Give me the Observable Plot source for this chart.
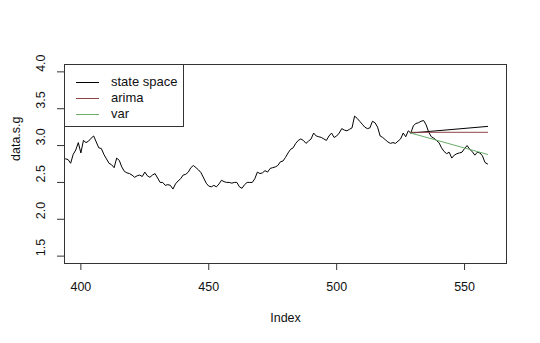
<!DOCTYPE html>
<html>
<head>
<meta charset="utf-8">
<script src="https://cdn.jsdelivr.net/npm/d3@7"></script>
<script src="https://cdn.jsdelivr.net/npm/@observablehq/plot@0.6"></script>
<style>
  body { margin: 0; background: #fff; }
  #wrap { position: relative; width: 540px; height: 343px; font-family: "Liberation Sans", Arial, sans-serif; }
  #legend { position: absolute; left: 64px; top: 64px; width: 120px; height: 63px; border: 1px solid #333; background: #fff; box-sizing: border-box; }
  #legend .row { position: absolute; left: 0; height: 16px; font-size: 13px; color: #111; }
  #legend .sw { position: absolute; left: 11px; top: 8px; width: 23px; height: 0; border-top: 1px solid; }
  #legend .lab { position: absolute; left: 46px; top: 0px; line-height: 16px; white-space: nowrap; }
</style>
</head>
<body>
<div id="wrap"></div>
<script>
// ---- data ----
const startIndex = 393;
const seriesValues = [
  2.83, 2.82, 2.81, 2.76, 2.88, 2.94, 3.04, 2.90, 3.07, 3.04,
  3.06, 3.10, 3.13, 3.05, 2.97, 2.96, 2.88, 2.82, 2.76, 2.74,
  2.70, 2.83, 2.80, 2.71, 2.65, 2.63, 2.62, 2.60, 2.57, 2.59,
  2.60, 2.58, 2.64, 2.59, 2.57, 2.60, 2.62, 2.56, 2.50, 2.50,
  2.46, 2.47, 2.46, 2.41, 2.48, 2.52, 2.55, 2.60, 2.61, 2.64,
  2.70, 2.73, 2.70, 2.67, 2.63, 2.56, 2.49, 2.45, 2.44, 2.46,
  2.44, 2.48, 2.53, 2.51, 2.50, 2.50, 2.49, 2.50, 2.50, 2.44,
  2.42, 2.47, 2.50, 2.50, 2.50, 2.55, 2.64, 2.62, 2.63, 2.66,
  2.64, 2.69, 2.70, 2.71, 2.73, 2.78, 2.79, 2.84, 2.90, 2.95,
  2.97, 3.03, 3.07, 3.09, 3.07, 3.03, 3.06, 3.09, 3.17, 3.13,
  3.12, 3.11, 3.09, 3.07, 3.13, 3.17, 3.11, 3.13, 3.17, 3.23,
  3.21, 3.20, 3.22, 3.24, 3.40, 3.37, 3.33, 3.29, 3.25, 3.23,
  3.24, 3.33, 3.31, 3.25, 3.13, 3.11, 3.08, 3.05, 3.03, 3.04,
  3.03, 3.06, 3.09, 3.17, 3.12, 3.20, 3.17, 3.27, 3.30, 3.31,
  3.33, 3.34, 3.28, 3.18, 3.12, 3.10, 3.07, 3.04, 2.97, 2.92,
  2.89, 2.91, 2.83, 2.87, 2.89, 2.90, 2.91, 2.96, 3.00, 2.95,
  2.92, 2.87, 2.91, 2.90, 2.86, 2.77, 2.75
];
const forecastIndex = [529, 559];
const stateSpaceForecast = [3.17, 3.26];
const arimaForecast = [3.18, 3.18];
const varForecast = [3.17, 2.88];
const xTicks = [400, 450, 500, 550];
const yTicks = [1.5, 2.0, 2.5, 3.0, 3.5, 4.0];
const legendLabels = ["state space", "arima", "var"];
const legendColors = ["#000000", "#8b4545", "#6aae6a"];

// ---- build ----
const series = seriesValues.map((v, i) => ({index: startIndex + i, value: v}));
const fc = (vals) => forecastIndex.map((x, i) => ({index: x, value: vals[i]}));

const chart = Plot.plot({
  width: 540,
  height: 343,
  marginLeft: 64,
  marginRight: 34,
  marginTop: 64,
  marginBottom: 80,
  style: {fontFamily: '"Liberation Sans", Arial, sans-serif', fontSize: "12.5px", background: "#fff", color: "#111"},
  x: {domain: [393.6, 566.4]},
  y: {domain: [1.4, 4.1]},
  marks: [
    Plot.line(series, {x: "index", y: "value", stroke: legendColors[0], strokeWidth: 1, clip: true}),
    Plot.line(fc(stateSpaceForecast), {x: "index", y: "value", stroke: legendColors[0], strokeWidth: 1}),
    Plot.line(fc(arimaForecast), {x: "index", y: "value", stroke: legendColors[1], strokeWidth: 1}),
    Plot.line(fc(varForecast), {x: "index", y: "value", stroke: legendColors[2], strokeWidth: 1}),
    Plot.frame({stroke: "#333", strokeWidth: 1}),
    Plot.axisX({ticks: xTicks, tickSize: 7, tickPadding: 12, label: null, stroke: "#333", fill: "#111", fontSize: 12.5}),
    Plot.axisY({ticks: yTicks, tickSize: 7, tickFormat: () => "", label: null, stroke: "#333"}),
    Plot.text(yTicks, {y: d => d, frameAnchor: "left", dx: -24, rotate: -90, text: d => d.toFixed(1), fill: "#111", fontSize: 12.5}),
    Plot.text(["Index"], {frameAnchor: "bottom", dy: 58, fill: "#111", fontSize: 12.5}),
    Plot.text(["data.s.g"], {frameAnchor: "left", dx: -49, dy: -3, rotate: -90, fill: "#111", fontSize: 12.5})
  ]
});

const wrap = document.getElementById("wrap");
wrap.appendChild(chart);

const legend = document.createElement("div");
legend.id = "legend";
legendLabels.forEach((lab, i) => {
  const row = document.createElement("div");
  row.className = "row";
  row.style.top = (9 + i * 16) + "px";
  row.style.width = "100%";
  const sw = document.createElement("div");
  sw.className = "sw";
  sw.style.borderTopColor = legendColors[i];
  const t = document.createElement("div");
  t.className = "lab";
  t.textContent = lab;
  row.appendChild(sw);
  row.appendChild(t);
  legend.appendChild(row);
});
wrap.appendChild(legend);
</script>
</body>
</html>
